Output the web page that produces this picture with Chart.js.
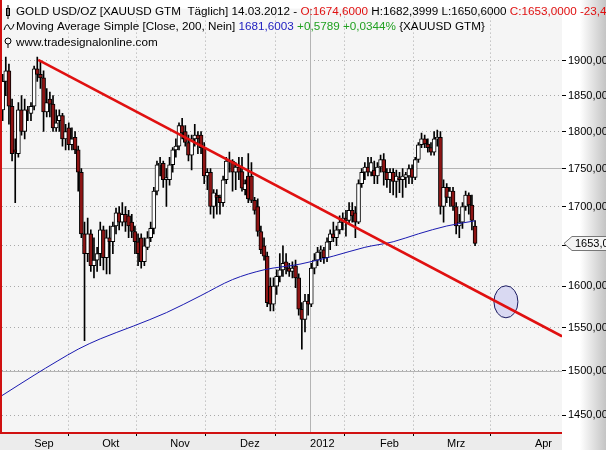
<!DOCTYPE html>
<html><head><meta charset="utf-8">
<script src="https://cdn.jsdelivr.net/npm/chart.js@4/dist/chart.umd.min.js"></script>
<style>html,body{margin:0;padding:0;background:#fff;overflow:hidden}#w{width:606px;height:450px;overflow:hidden}</style>
</head><body><div id="w"><canvas id="c" width="625" height="450"></canvas></div>
<script>
// trading-day index of first candle (0 = 1 Sep 2011)
const firstIndex = -10;
const opens  = [1830,1870,1885,1835,1775,1770,1830,1800,1830,1825,1835,1888,1880,1875,1827,1845,1838,1805,1815,1822,1790,1805,1782,1792,1775,1745,1665,1640,1665,1625,1632,1640,1670,1635,1660,1655,1675,1692,1680,1690,1688,1680,1668,1655,1660,1630,1648,1660,1672,1720,1755,1757,1735,1735,1755,1775,1780,1808,1800,1785,1768,1790,1795,1795,1778,1740,1745,1700,1715,1712,1705,1735,1760,1760,1745,1752,1746,1722,1740,1740,1708,1700,1668,1650,1637,1600,1578,1600,1612,1620,1630,1622,1618,1625,1610,1572,1560,1582,1578,1622,1632,1642,1645,1635,1655,1665,1660,1670,1680,1685,1682,1695,1692,1680,1730,1745,1752,1745,1748,1740,1752,1762,1745,1735,1745,1733,1738,1735,1738,1740,1750,1738,1762,1782,1790,1783,1778,1772,1790,1792,1700,1725,1712,1720,1700,1675,1680,1700,1715,1702,1675];
const highs  = [1880,1905,1895,1845,1790,1840,1850,1845,1835,1840,1892,1905,1900,1885,1860,1855,1850,1830,1830,1825,1810,1812,1805,1800,1780,1750,1680,1685,1670,1660,1648,1680,1675,1670,1675,1680,1698,1700,1705,1700,1695,1690,1675,1665,1665,1660,1668,1680,1725,1760,1765,1760,1750,1765,1778,1790,1812,1818,1808,1795,1795,1810,1800,1800,1785,1750,1750,1722,1722,1715,1740,1765,1772,1762,1758,1765,1765,1735,1770,1758,1712,1710,1675,1660,1642,1610,1610,1620,1640,1650,1640,1628,1630,1632,1615,1580,1590,1590,1628,1640,1648,1650,1648,1660,1670,1680,1675,1688,1692,1695,1705,1705,1700,1735,1750,1758,1765,1765,1760,1758,1768,1770,1750,1750,1750,1748,1745,1750,1745,1755,1755,1765,1785,1798,1795,1790,1785,1800,1802,1800,1735,1730,1725,1725,1705,1690,1705,1720,1718,1715,1682];
const lows   = [1815,1850,1810,1760,1705,1765,1795,1790,1815,1815,1830,1870,1860,1800,1820,1820,1800,1800,1800,1780,1775,1775,1775,1770,1720,1660,1535,1630,1618,1610,1618,1625,1620,1615,1615,1640,1665,1670,1675,1668,1660,1660,1640,1625,1622,1625,1645,1655,1665,1715,1740,1725,1700,1728,1745,1765,1775,1790,1780,1760,1748,1780,1770,1770,1730,1722,1690,1685,1690,1690,1700,1730,1745,1720,1722,1735,1720,1715,1705,1705,1690,1662,1640,1632,1575,1570,1570,1590,1605,1612,1615,1612,1610,1598,1565,1525,1545,1565,1575,1615,1625,1630,1628,1630,1645,1655,1650,1665,1670,1662,1678,1680,1660,1678,1725,1735,1740,1740,1730,1730,1745,1728,1725,1718,1715,1712,1718,1712,1725,1730,1730,1735,1758,1778,1778,1772,1768,1768,1780,1690,1680,1705,1700,1695,1665,1660,1672,1695,1690,1670,1650];
const closes = [1870,1885,1835,1770,1772,1830,1800,1830,1828,1835,1888,1880,1875,1827,1840,1838,1805,1812,1822,1790,1800,1782,1790,1775,1745,1665,1640,1665,1625,1632,1640,1670,1635,1660,1655,1675,1692,1680,1690,1680,1675,1668,1655,1640,1630,1650,1660,1672,1720,1755,1757,1735,1738,1755,1775,1780,1808,1798,1785,1768,1790,1795,1790,1778,1740,1745,1700,1718,1712,1705,1735,1760,1760,1745,1752,1745,1724,1730,1710,1708,1695,1668,1645,1637,1580,1578,1600,1612,1620,1628,1622,1618,1622,1610,1572,1560,1582,1578,1622,1632,1642,1645,1635,1655,1665,1660,1670,1680,1685,1682,1695,1688,1680,1730,1745,1752,1745,1758,1740,1752,1762,1745,1735,1745,1733,1740,1735,1740,1742,1750,1738,1762,1782,1790,1783,1778,1772,1790,1792,1700,1725,1712,1720,1700,1675,1680,1700,1715,1702,1682,1653];
// 200-day moving average (index, price)
const maIndex = [-10.2,0,7.3,14,21,31.5,42,52.7,63,73,84.4,95,105,114,122,131,140];
const maValue = [1472,1495,1511,1525,1537,1552,1568,1588,1608,1620,1627,1637,1648,1655,1665,1675,1681.6];
// drawn trendline endpoints
const trendIndex = [1.3,167.6];
const trendValue = [1901,1540];
// target marker
const markerIndex = 149.8, markerValue = 1581;
// axis ticks
const monthIndex = [0,21.6,43.2,65.4,87.6,109.8,131.1,159];
const monthLabels = ['Sep','Okt','Nov','Dez','2012','Feb','Mrz','Apr'];
const priceTicks = [1450,1500,1550,1600,1650,1700,1750,1800,1850,1900];

const idx = closes.map((_, i) => firstIndex + i);
const wick = idx.map((x, i) => ({x, y:[lows[i], highs[i]]}));
const body = idx.map((x, i) => ({x, y:[Math.min(opens[i],closes[i]), Math.max(opens[i],closes[i]) + (opens[i]===closes[i]?0.6:0)]}));
const bodyCol = closes.map((c, i) => c < opens[i] ? '#8e1414' : '#ffffff');

const deco = {
  id:'deco',
  beforeDraw(ch){
    const c = ch.ctx, a = ch.chartArea;
    c.save();
    c.fillStyle='#ffffff'; c.fillRect(0,0,ch.width,ch.height);
    c.fillStyle='#f5f5f5'; c.fillRect(a.left,a.top,a.right-a.left,a.bottom-a.top);
    c.fillStyle='#ececec'; c.fillRect(0,a.bottom,a.right,ch.height-a.bottom);
    const g = c.createLinearGradient(580,0,606,0);
    g.addColorStop(0,'#ffffff'); g.addColorStop(1,'#c4c4c4');
    c.fillStyle=g; c.fillRect(580,0,50,ch.height);
    c.restore();
  },
  beforeDatasetsDraw(ch){
    const c = ch.ctx, xs = ch.scales.x, ys = ch.scales.y, a = ch.chartArea;
    c.save();
    c.strokeStyle='#b4b4b4'; c.lineWidth=1;
    [1750,1500].forEach(v=>{const y=Math.round(ys.getPixelForValue(v))+0.5;c.beginPath();c.moveTo(a.left,y);c.lineTo(a.right,y);c.stroke();});
    const x2012=Math.round(xs.getPixelForValue(monthIndex[4]))+0.5;
    c.beginPath();c.moveTo(x2012,a.top);c.lineTo(x2012,a.bottom);c.stroke();
    const cx=xs.getPixelForValue(markerIndex), cy=ys.getPixelForValue(markerValue);
    c.beginPath(); c.ellipse(cx,cy,12,16,0,0,Math.PI*2);
    c.fillStyle='#d9d9f2'; c.fill(); c.strokeStyle='#1a1a60'; c.stroke();
    c.restore();
  },
  afterDraw(ch){
    const c = ch.ctx, a = ch.chartArea, ys = ch.scales.y;
    c.save();
    c.strokeStyle='#d01010'; c.lineWidth=2;
    c.beginPath(); c.moveTo(a.left-1,0); c.lineTo(a.left-1,a.bottom+1); c.lineTo(a.right,a.bottom+1); c.stroke();
    // header
    c.font='11.7px "Liberation Sans", Arial'; c.textBaseline='middle';
    const runs=(y,x,parts)=>{parts.forEach(([t,col])=>{c.fillStyle=col;c.fillText(t,x,y);x+=c.measureText(t).width;});};
    runs(12,16,[['GOLD USD/OZ [XAUUSD GTM  Täglich] 14.03.2012 - ','#000'],['O:1674,6000','#e01010'],[' H:1682,3999 L:1650,6000 ','#000'],['C:1653,0000 -23,40%','#e01010']]);
    runs(27,16,[['Moving Average Simple [Close, 200, Nein] ','#000'],['1681,6003','#2020c0'],[' +0,5789 +0,0344%','#20a020'],[' {XAUUSD GTM}','#000']]);
    runs(43,16,[['www.tradesignalonline.com','#000']]);
    c.strokeStyle='#000'; c.lineWidth=1;
    c.strokeRect(6.5,8.5,3,7); c.beginPath(); c.moveTo(8,5); c.lineTo(8,19); c.stroke();
    c.beginPath(); c.moveTo(4,30); c.quadraticCurveTo(7,21,9,27); c.quadraticCurveTo(11,33,14,24); c.stroke();
    c.beginPath(); c.arc(8,41,3,0,Math.PI*2); c.stroke(); c.beginPath(); c.moveTo(8,44); c.lineTo(8,48); c.stroke();
    // last price label
    const py=Math.round(ys.getPixelForValue(closes[closes.length-1]))+0.5, lx=a.right+2;
    c.beginPath(); c.moveTo(lx,py); c.lineTo(lx+8,py-7); c.lineTo(lx+60,py-7); c.lineTo(lx+60,py+7); c.lineTo(lx+8,py+7); c.closePath();
    c.fillStyle='#f4f4f4'; c.fill(); c.strokeStyle='#777'; c.stroke();
    c.fillStyle='#000'; c.font='11px "Liberation Sans", Arial'; c.textBaseline='middle';
    c.fillText(closes[closes.length-1].toFixed(2).replace('.',','), lx+11, py+0.5);
    c.restore();
  }
};

new Chart(document.getElementById('c'), {
  type:'bar',
  data:{datasets:[
    {type:'line', data:trendIndex.map((x,i)=>({x,y:trendValue[i]})), borderColor:'#e01010', borderWidth:2.5, pointRadius:0, order:0},
    {type:'line', data:maIndex.map((x,i)=>({x,y:maValue[i]})), borderColor:'#1a1ab0', borderWidth:1, pointRadius:0, tension:0.4, cubicInterpolationMode:'monotone', order:1},
    {data:body, backgroundColor:bodyCol, borderColor:'#000', borderWidth:1, borderSkipped:false, barThickness:4, grouped:false, order:2},
    {data:wick, backgroundColor:'#000', borderWidth:0, barThickness:1, grouped:false, order:3}
  ]},
  options:{
    responsive:false, animation:false, devicePixelRatio:1,
    layout:{padding:{left:2,top:0,right:0,bottom:0}},
    plugins:{legend:{display:false}, tooltip:{enabled:false}},
    scales:{
      x:{type:'linear', min:-10.2, max:167.6, offset:false,
        afterBuildTicks(s){s.ticks=monthIndex.map(v=>({value:v}));},
        afterFit(s){s.height=18;},
        ticks:{autoSkip:false, maxRotation:0, align:'start', padding:1, color:'#000', font:{family:'"Liberation Sans", Arial', size:11},
          callback:(v,i)=>monthLabels[i]},
        grid:{color:'#a8a8a8', tickColor:'#000', tickLength:4},
        border:{display:false, dash:[1,3]}},
      y:{type:'logarithmic', position:'right', min:1431.7, max:1976.7,
        afterBuildTicks(s){s.ticks=priceTicks.map(v=>({value:v}));},
        afterFit(s){s.width=63;},
        ticks:{autoSkip:false, padding:2, color:'#000', font:{family:'"Liberation Sans", Arial', size:11},
          callback:v=>Number(v).toFixed(2).replace('.',',')},
        grid:{color:'#a8a8a8', tickColor:'#000', tickLength:4},
        border:{display:false, dash:[1,3]}}
    }
  },
  plugins:[deco]
});
</script></body></html>
